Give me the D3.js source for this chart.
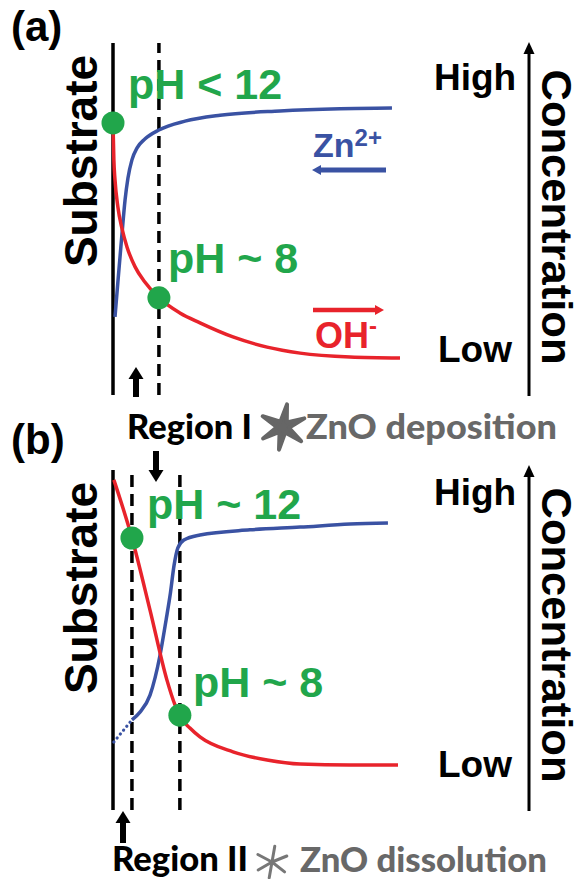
<!DOCTYPE html>
<html>
<head>
<meta charset="utf-8">
<script src="https://cdn.jsdelivr.net/npm/d3@7"></script>
<style>
  body { margin: 0; background: #fff; }
  svg { display: block; }
</style>
</head>
<body>
<svg id="chart" width="579" height="879"></svg>
<script>
// ---- Data: distance from substrate (0–100) vs. relative concentration (0–100) ----

// Panel (a): pH < 12
const zincA = [[0.7,22.2],[1.7,32.1],[3.1,45.5],[4.2,55.4],[5.2,61.6],[6.6,66.8],[8.4,70.2],
               [11.1,72.7],[16.0,75.3],[25.1,77.8],[37.3,79.5],[58.2,80.7],[79.1,81.3],[97.2,81.5]];
const hydroxideA = [[0,77.3],[0.3,66.8],[0.7,61.1],[1.7,53.4],[3.1,47.4],[4.9,42.0],[7.7,36.4],
                    [11.1,32.1],[16.0,27.6],[23.3,23.3],[30.3,20.5],[41.8,16.5],[53.7,13.6],
                    [65.2,11.9],[82.6,10.8],[100,10.5]];
const boundariesA = [16.0];
const phA = [{d: 0, c: 77.3, label: "pH < 12"}, {d: 16.0, c: 27.6, label: "pH ~ 8"}];

// Panel (b): pH ~ 12
const zincLeadB = [[0.3,20.0],[6.6,26.5]];
const zincB = [[6.6,26.5],[9.4,28.8],[12.9,33.8],[16.4,45.6],[18.5,55.9],[19.9,63.2],[21.3,72.1],
               [22.6,77.1],[24.7,79.4],[30.3,80.9],[47.7,82.4],[65.2,83.2],[82.6,84.1],[95.8,84.4]];
const hydroxideB = [[0.3,97.1],[6.6,80.0],[12.9,58.8],[18.8,38.2],[21.6,30.9],[23.3,27.6],
                    [26.8,24.1],[30.3,21.5],[41.8,17.1],[53.7,14.7],[65.2,13.5],[82.6,13.2],[99.3,13.2]];
const boundariesB = [6.6, 23.3];
const phB = [{d: 6.6, c: 80.0, label: "pH ~ 12"}, {d: 23.3, c: 27.9, label: "pH ~ 8"}];

const panelLetters = ["(a)", "(b)"];
const regionLabels = ["Region I", "Region II"];
const processLabels = ["ZnO deposition", "ZnO dissolution"];
const axisWords = {high: "High", low: "Low", title: "Concentration", substrate: "Substrate"};

// ---- Styles ----
const GREEN = "#21a64b", BLUE = "#3a52a3", RED = "#e8232b", GRAY = "#686868";
const ARIAL = "'Liberation Sans', Arial, sans-serif";
const LATO = "Lato, 'Open Sans', sans-serif";

const svg = d3.select("#chart");
const x = d3.scaleLinear().domain([0, 100]).range([113, 400]);
const yA = d3.scaleLinear().domain([0, 100]).range([395, 43]);
const yB = d3.scaleLinear().domain([0, 100]).range([810, 470]);

function label(g, px, py, str, size, opts = {}) {
  const t = g.append("text")
    .attr("x", px).attr("y", py)
    .attr("font-family", opts.family || ARIAL)
    .attr("font-weight", opts.weight || "bold")
    .attr("font-size", size)
    .attr("fill", opts.fill || "#000")
    .attr("text-anchor", opts.anchor || "start")
    .text(str);
  if (opts.rotate) t.attr("transform", `rotate(${opts.rotate},${px},${py})`);
  if (opts.length) t.attr("textLength", opts.length).attr("lengthAdjust", "spacingAndGlyphs");
  return t;
}

// Horizontal arrow with a triangular head; dir = -1 points left, +1 right
function hArrow(g, x0, x1, yy, color, width, dir, headL, headW) {
  const tip = dir < 0 ? x0 : x1;
  const base = tip - dir * headL;
  g.append("line").attr("x1", dir < 0 ? base : x0).attr("x2", dir < 0 ? x1 : base)
    .attr("y1", yy).attr("y2", yy).attr("stroke", color).attr("stroke-width", width);
  g.append("path").attr("d", `M${tip},${yy}L${base},${yy - headW}L${base},${yy + headW}Z`).attr("fill", color);
}

// Vertical arrow; tip at tipY, tail at tailY
function vArrow(g, xx, tipY, tailY, width, headL, headW) {
  const dir = tailY > tipY ? 1 : -1;
  const base = tipY + dir * headL;
  g.append("line").attr("x1", xx).attr("x2", xx).attr("y1", base).attr("y2", tailY)
    .attr("stroke", "#000").attr("stroke-width", width);
  g.append("path").attr("d", `M${xx},${tipY}L${xx - headW},${base}L${xx + headW},${base}Z`).attr("fill", "#000");
}

function drawPanel(cfg) {
  const g = svg.append("g");
  const y = cfg.y;
  const line = d3.line().x(d => x(d[0])).y(d => y(d[1])).curve(d3.curveMonotoneX);

  // substrate surface
  g.append("line").attr("x1", x(0)).attr("x2", x(0)).attr("y1", y(0)).attr("y2", y(100))
    .attr("stroke", "#000").attr("stroke-width", 3.5);
  // region boundaries
  g.selectAll(".bound").data(cfg.bounds).join("line")
    .attr("x1", d => x(d)).attr("x2", d => x(d)).attr("y1", y(0)).attr("y2", y(100))
    .attr("stroke", "#000").attr("stroke-width", 3.5).attr("stroke-dasharray", "12,7");

  // Zn2+ and OH- profiles
  if (cfg.zincLead) {
    g.append("path").attr("d", line(cfg.zincLead)).attr("fill", "none")
      .attr("stroke", BLUE).attr("stroke-width", 3.2).attr("stroke-linecap", "round")
      .attr("stroke-dasharray", "0.1,5");
  }
  g.append("path").attr("d", line(cfg.zinc)).attr("fill", "none")
    .attr("stroke", BLUE).attr("stroke-width", 3.5);
  g.append("path").attr("d", line(cfg.hydroxide)).attr("fill", "none")
    .attr("stroke", RED).attr("stroke-width", 3.5);

  // pH markers
  g.selectAll(".ph").data(cfg.ph).join("circle")
    .attr("cx", d => x(d.d)).attr("cy", d => y(d.c)).attr("r", 11.5).attr("fill", GREEN);
  cfg.ph.forEach((d, i) => label(g, cfg.phPos[i][0], cfg.phPos[i][1], d.label, 43, {fill: GREEN}));

  // panel letter and substrate label
  label(g, 11, cfg.letterY, cfg.letter, 42);
  label(g, 97, cfg.substrateY, axisWords.substrate, 46, {rotate: -90, anchor: "middle"});

  // concentration axis
  vArrow(g, 529, cfg.axisTop, cfg.axisBottom, 3, 12, 5.5);
  label(g, 434, cfg.highY, axisWords.high, 37);
  label(g, 438, cfg.lowY, axisWords.low, 37);
  label(g, 542, cfg.titleY, axisWords.title, 42, {rotate: 90, anchor: "middle", length: 295});
  return g;
}

const gA = drawPanel({
  y: yA, zinc: zincA, hydroxide: hydroxideA, bounds: boundariesA, ph: phA,
  phPos: [[128, 99], [168, 273]], letter: panelLetters[0], letterY: 41, substrateY: 161,
  axisTop: 42, axisBottom: 396, highY: 90, lowY: 362, titleY: 217
});
const gB = drawPanel({
  y: yB, zinc: zincB, zincLead: zincLeadB, hydroxide: hydroxideB, bounds: boundariesB, ph: phB,
  phPos: [[147, 519], [193, 697]], letter: panelLetters[1], letterY: 454, substrateY: 588,
  axisTop: 465, axisBottom: 811, highY: 505, lowY: 777, titleY: 635
});

// ion legends in panel (a)
const zn = gA.append("text").attr("x", 313).attr("y", 157).attr("font-family", ARIAL)
  .attr("font-weight", "bold").attr("font-size", 34).attr("fill", BLUE);
zn.append("tspan").text("Zn");
zn.append("tspan").attr("font-size", 24).attr("dy", -11).text("2+");
hArrow(gA, 312, 386, 170, BLUE, 5, -1, 9, 5);

const oh = gA.append("text").attr("x", 315).attr("y", 348).attr("font-family", ARIAL)
  .attr("font-weight", "bold").attr("font-size", 36).attr("fill", RED);
oh.append("tspan").text("OH");
oh.append("tspan").attr("font-size", 24).attr("dy", -14).text("-");
hArrow(gA, 313, 384, 310, RED, 4.5, 1, 9, 5);

// region annotations
const notes = svg.append("g");
vArrow(notes, 136, 367, 397, 6, 12, 7.5);
label(notes, 127, 439, regionLabels[0], 35, {family: LATO, weight: 900, length: 125});
label(notes, 306, 439, processLabels[0], 35, {family: LATO, weight: 900, fill: GRAY, length: 251});
vArrow(notes, 156, 482, 451, 6, 12, 7.5);
vArrow(notes, 123, 811, 843, 6, 12, 7.5);
label(notes, 112, 871, regionLabels[1], 35, {family: LATO, weight: 900, length: 136});
label(notes, 300, 872, processLabels[1], 35, {family: LATO, weight: 900, fill: GRAY, length: 247});

// ZnO crystal glyphs: solid star (growth) and thin star (dissolution)
const armAngles = [-80, -22, 38, 100, 150, 208];
const starPts = [];
armAngles.forEach((a, i) => {
  const next = armAngles[(i + 1) % armAngles.length] + (i === armAngles.length - 1 ? 360 : 0);
  starPts.push([a, 23]);
  starPts.push([(a + next) / 2, 6]);
});
const radial = d3.lineRadial().angle(d => (d[0] + 90) * Math.PI / 180).radius(d => d[1])
  .curve(d3.curveLinearClosed);
notes.append("path").attr("transform", "translate(283,427)").attr("d", radial(starPts))
  .attr("fill", "#666").attr("stroke", "#666").attr("stroke-width", 4).attr("stroke-linejoin", "round");
notes.append("g").attr("transform", "translate(272,862)")
  .selectAll("line").data(armAngles).join("line")
  .attr("x1", 0).attr("y1", 0)
  .attr("x2", a => 16 * Math.cos(a * Math.PI / 180))
  .attr("y2", a => 16 * Math.sin(a * Math.PI / 180))
  .attr("stroke", "#777").attr("stroke-width", 3).attr("stroke-linecap", "round");
</script>
</body>
</html>
